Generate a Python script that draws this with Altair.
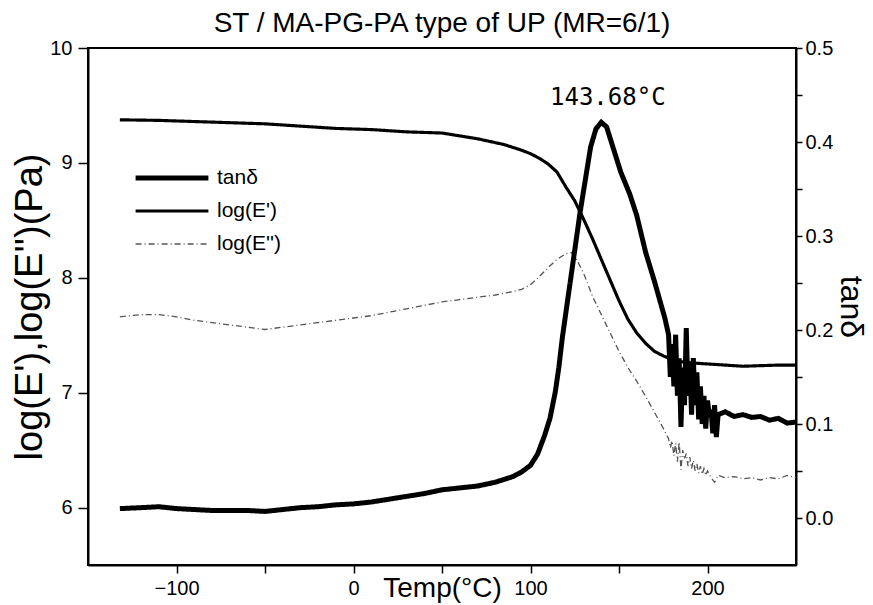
import altair as alt
import pandas as pd

# ---------------- data ----------------
e1_temp = [-132, -110, -90, -70, -50, -30, -10, 10, 30, 50, 70, 85, 95, 100, 105, 110,
           115, 120, 125, 130, 135, 140, 145, 150, 155, 160, 165, 170, 175, 180, 185,
           190, 200, 210, 220, 230, 240, 250]
e1_val = [9.375, 9.37, 9.36, 9.35, 9.34, 9.32, 9.30, 9.29, 9.27, 9.26, 9.21, 9.16, 9.11,
          9.08, 9.04, 8.99, 8.92, 8.79, 8.67, 8.51, 8.34, 8.16, 7.98, 7.80, 7.64, 7.52,
          7.43, 7.36, 7.32, 7.29, 7.27, 7.26, 7.25, 7.24, 7.23, 7.235, 7.24, 7.24]

e2_temp = [-132, -120, -110, -100, -90, -80, -70, -60, -50, -40, -30, -20, -10, 0, 10, 20,
           30, 40, 50, 60, 70, 80, 90, 95, 100, 105, 110, 115, 120, 123, 126, 130, 135,
           140, 145, 150, 155, 160, 165, 170, 175, 178, 179, 180, 181, 182, 183, 184, 185,
           186, 187, 188, 189, 190, 191, 192, 193, 194, 195, 196, 197, 198, 199, 200, 202,
           204, 206, 210, 215, 220, 225, 230, 235, 240, 245, 250]
e2_val = [7.66, 7.68, 7.68, 7.66, 7.63, 7.61, 7.59, 7.57, 7.55, 7.57, 7.59, 7.61, 7.63,
          7.65, 7.67, 7.70, 7.73, 7.76, 7.79, 7.81, 7.83, 7.85, 7.88, 7.90, 7.94, 8.01,
          8.09, 8.16, 8.21, 8.22, 8.16, 8.04, 7.84, 7.68, 7.52, 7.36, 7.22, 7.10, 6.97,
          6.83, 6.69, 6.60, 6.52, 6.58, 6.45, 6.56, 6.40, 6.57, 6.33, 6.50, 6.42, 6.47,
          6.36, 6.44, 6.34, 6.41, 6.32, 6.38, 6.30, 6.36, 6.29, 6.34, 6.28, 6.32, 6.26,
          6.22, 6.28, 6.26, 6.27, 6.25, 6.26, 6.24, 6.26, 6.25, 6.28, 6.26]

tan_temp = [-132, -120, -110, -100, -90, -80, -70, -60, -50, -40, -30, -20, -10, 0, 10,
            20, 30, 40, 50, 60, 70, 80, 90, 95, 100, 104, 108, 111, 114, 116, 118, 121,
            125, 128, 131, 134, 137, 140, 143, 147, 151, 156, 160, 165, 170, 173, 176,
            178, 179, 180, 181, 182, 183, 184, 185, 186, 187, 188, 189, 190, 191, 192,
            193, 194, 195, 196, 197, 198, 199, 200, 201, 202, 203, 204, 205, 206, 210,
            215, 220, 225, 230, 235, 240, 245, 250]
tan_val = [0.010, 0.011, 0.012, 0.010, 0.009, 0.008, 0.008, 0.008, 0.007, 0.009, 0.011,
           0.012, 0.014, 0.015, 0.017, 0.020, 0.023, 0.026, 0.030, 0.032, 0.034, 0.038,
           0.044, 0.049, 0.056, 0.068, 0.088, 0.106, 0.134, 0.160, 0.192, 0.232, 0.285,
           0.325, 0.360, 0.395, 0.414, 0.421, 0.416, 0.392, 0.368, 0.345, 0.322, 0.283,
           0.252, 0.232, 0.212, 0.195, 0.150, 0.185, 0.140, 0.195, 0.130, 0.170, 0.097,
           0.160, 0.120, 0.202, 0.130, 0.165, 0.110, 0.170, 0.120, 0.155, 0.105, 0.140,
           0.100, 0.130, 0.095, 0.125, 0.110, 0.115, 0.090, 0.120, 0.086, 0.110, 0.113,
           0.108, 0.110, 0.107, 0.108, 0.104, 0.106, 0.101, 0.102]

series_names = ["tanδ", "log(E')", "log(E'')"]
peak_temp = [143.68]
peak_tan = [0.421]
peak_label = ["143.68°C"]

# ---------------- tables ----------------
df_e = pd.concat([
    pd.DataFrame({"T": e1_temp, "v": e1_val, "s": series_names[1]}),
    pd.DataFrame({"T": e2_temp, "v": e2_val, "s": series_names[2]}),
])
df_t = pd.DataFrame({"T": tan_temp, "tan": tan_val, "s": series_names[0]})
df_p = pd.DataFrame({"T": peak_temp, "tan": peak_tan, "label": peak_label})

FONT = "Liberation Sans"

legend = alt.Legend(orient="none", legendX=45, legendY=119, title=None,
                    symbolType="stroke", symbolSize=5300, clipHeight=22,
                    labelFontSize=21, labelFont=FONT, labelColor="black",
                    rowPadding=11, labelOffset=6)

color = alt.Color("s:N", scale=alt.Scale(domain=series_names,
                                         range=["black", "black", "#555555"]),
                  legend=legend)
swidth = alt.StrokeWidth("s:N", scale=alt.Scale(domain=series_names, range=[5, 1.3, 1]),
                         legend=legend)
sdash = alt.StrokeDash("s:N", scale=alt.Scale(domain=series_names,
                                              range=[[1, 0], [1, 0], [6, 3, 1, 3]]),
                       legend=legend)

x_enc = alt.X("T:Q", scale=alt.Scale(domain=[-150, 250], nice=False, zero=False),
              axis=alt.Axis(values=[-100, -50, 0, 50, 100, 150, 200], format="d",
                            labelExpr="datum.value % 100 == 0 ? datum.label : ''",
                            title="Temp(°C)", titleFontSize=28, titleFontWeight="normal",
                            titleBaseline="top", titleY=9, tickSize=8, labelPadding=5))

left = alt.Chart(df_e).mark_line(strokeCap="butt").encode(
    x=x_enc,
    y=alt.Y("v:Q", scale=alt.Scale(domain=[5.5, 10], nice=False, zero=False),
            axis=alt.Axis(orient="left", values=[6, 6.5, 7, 7.5, 8, 8.5, 9, 9.5, 10],
                          format="d", labelExpr="datum.value % 1 == 0 ? datum.label : ''",
                          title="log(E'),log(E'')(Pa)", titleFontSize=38,
                          titleFontWeight="normal", titlePadding=0, tickSize=10,
                          labelPadding=6)),
    color=color, strokeWidth=swidth, strokeDash=sdash, order="T:Q",
)

tan_y = alt.Y("tan:Q", scale=alt.Scale(domain=[-0.05, 0.5], nice=False, zero=False),
              axis=alt.Axis(orient="right",
                            values=[0, 0.05, 0.1, 0.15, 0.2, 0.25, 0.3, 0.35, 0.4, 0.45, 0.5],
                            labelExpr="abs(datum.value*10 - round(datum.value*10)) < 0.001 ? format(datum.value, '.1f') : ''",
                            title="tanδ", titleFontSize=32, titleFontWeight="normal",
                            titlePadding=1, tickSize=6, labelPadding=3))

tan_line = alt.Chart(df_t).mark_line(strokeCap="butt", strokeJoin="miter").encode(
    x="T:Q", y=tan_y,
    color=color, strokeWidth=swidth, strokeDash=sdash, order="T:Q",
)

peak_text = alt.Chart(df_p).mark_text(font="DejaVu Sans Mono", fontSize=24, dy=-24,
                                      color="black").encode(
    x="T:Q", y=tan_y, text="label:N")

right = alt.layer(tan_line, peak_text)

chart = alt.layer(left, right).resolve_scale(y="independent").properties(
    width=708, height=517,
    autosize="none",
    background="white",
    padding={"left": 88, "top": 48, "right": 77, "bottom": 40},
    title=alt.TitleParams("ST / MA-PG-PA type of UP (MR=6/1)", fontSize=28, font=FONT,
                          fontWeight="normal", color="black", offset=0, anchor="middle"),
).configure_axis(
    labelFont=FONT, titleFont=FONT, labelFontSize=20, labelColor="black",
    titleColor="black", domainColor="black", domainWidth=2, tickColor="black",
    tickWidth=1.5, grid=False,
).configure_view(stroke="black", strokeWidth=2)

chart.save("out.html", embed_options={"renderer": "svg", "actions": False})
